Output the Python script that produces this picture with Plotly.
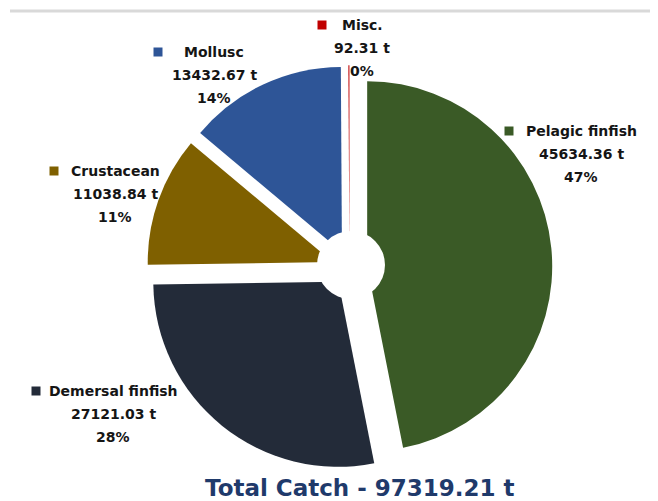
import plotly.graph_objects as go

# ---- data ----
categories = ["Pelagic finfish", "Demersal finfish", "Crustacean", "Mollusc", "Misc."]
catch_t = [45634.36, 27121.03, 11038.84, 13432.67, 92.31]
colors = ["#3A5A26", "#232B39", "#7F6000", "#2E5597", "#C00000"]
total_label = "Total Catch - 97319.21 t"

# figure size (page has an 8px body margin, so the figure sits at (8, 8))
OFF = 8
W, H = 650, 493

# ---- layout helpers (page-pixel positions of label blocks) ----
label_center_x = [581, 113, 115, 214, 362]
label_top_y = [131, 391, 171, 52, 25]
key_x = [509, 36, 54, 158, 322]
line_gap = 22.8

def px(x):
    return (x - OFF) / W

def py(y):
    return 1 - (y - OFF) / H

total = sum(catch_t)

fig = go.Figure()
fig.add_trace(go.Pie(
    labels=categories,
    values=catch_t,
    marker=dict(colors=colors, line=dict(width=0)),
    sort=False,
    direction="clockwise",
    rotation=0,
    pull=[0.096] * len(catch_t),
    textinfo="none",
    hoverinfo="label+value+percent",
    domain=dict(x=[px(146.7), px(552.3)], y=[py(470.8), py(65.2)]),
    showlegend=False,
))

annotations = []
shapes = []
font = dict(family="DejaVu Sans", size=14, color="#151515", weight="bold")
for i, name in enumerate(categories):
    pct = round(100 * catch_t[i] / total)
    lines = [name, f"{catch_t[i]:.2f} t", f"{pct}%"]
    for j, t in enumerate(lines):
        annotations.append(dict(
            x=px(label_center_x[i]), y=py(label_top_y[i] + j * line_gap),
            xref="paper", yref="paper", text=t, showarrow=False,
            xanchor="center", yanchor="middle", font=font,
        ))
    s = 4.5
    shapes.append(dict(
        type="rect", xref="paper", yref="paper",
        x0=px(key_x[i] - s), x1=px(key_x[i] + s),
        y0=py(label_top_y[i] + s), y1=py(label_top_y[i] - s),
        fillcolor=colors[i], line=dict(width=0),
    ))

annotations.append(dict(
    x=px(360), y=py(487.5), xref="paper", yref="paper", text=total_label,
    showarrow=False, xanchor="center", yanchor="middle",
    font=dict(family="DejaVu Sans", size=23, color="#1F3A6B", weight="bold"),
))

# white centre disc
shapes.append(dict(type="circle", xref="paper", yref="paper",
                   x0=px(317), x1=px(385), y0=py(299), y1=py(231),
                   fillcolor="white", line=dict(width=0)))
# light rule at the top
shapes.append(dict(type="line", xref="paper", yref="paper",
                   x0=px(10), x1=1, y0=py(11), y1=py(11),
                   line=dict(color="#D9D9D9", width=3)))

fig.update_layout(
    width=W, height=H,
    margin=dict(l=0, r=0, t=0, b=0),
    paper_bgcolor="white", plot_bgcolor="white",
    annotations=annotations, shapes=shapes,
)

fig.write_html("out.html")
